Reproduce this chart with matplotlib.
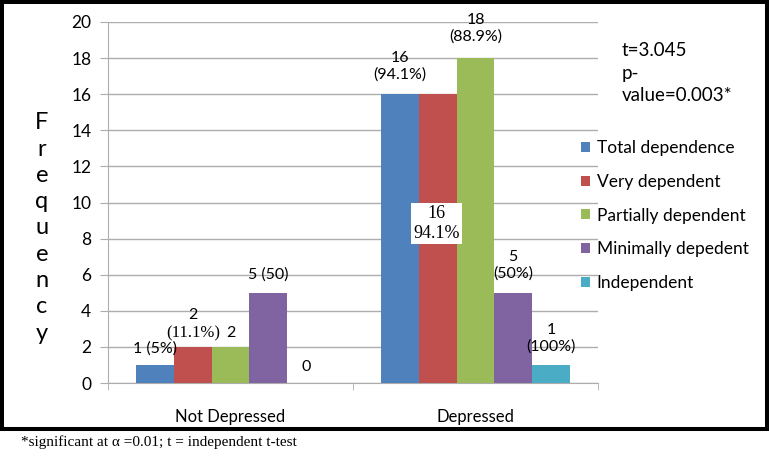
import matplotlib
matplotlib.use("Agg")
import matplotlib.pyplot as plt
import matplotlib.patches as patches
import numpy as np

plt.rcParams["font.family"] = ["Lato", "DejaVu Sans"]

categories = ["Not Depressed", "Depressed"]
series = ["Total dependence", "Very dependent", "Partially dependent",
          "Minimally depedent", "Independent"]
colors = ["#4F81BD", "#C0504D", "#9BBB59", "#8064A2", "#4BACC6"]
values = {
    "Total dependence": [1, 16],
    "Very dependent": [2, 16],
    "Partially dependent": [2, 18],
    "Minimally depedent": [5, 5],
    "Independent": [0, 1],
}
yticks = list(range(0, 21, 2))

# labels per (series index, category index): text, font, offset in pixels
bar_labels = {
    (0, 0): ("1 (5%)", "sans", 16),
    (1, 0): ("(11.1%)", "serif", 14),
    (2, 0): ("2", "sans", 14),
    (3, 0): ("5 (50)", "sans", 18),
    (4, 0): ("0", "sans", 16),
    (0, 1): ("16\n(94.1%)", "sans", 28),
    (2, 1): ("18\n(88.9%)", "sans", 30),
    (3, 1): ("5\n(50%)", "sans", 27),
    (4, 1): ("1\n(100%)", "sans", 27),
}
stat_text = "t=3.045\np-\nvalue=0.003*"
footnote = "*significant at \u03b1 =0.01; t = independent t-test"

W, H = 769, 458
fig = plt.figure(figsize=(W / 100, H / 100), dpi=100)
ax = fig.add_axes([108 / W, 1 - 383 / H, (598 - 108) / W, (383 - 22) / H])

n = len(series)
width = 0.154
x = np.arange(len(categories))
grid_c = "#ADADAD"

for i, name in enumerate(series):
    pos = x + (i - (n - 1) / 2) * width
    ax.bar(pos, values[name], width, color=colors[i], label=name, zorder=3)
    for j in range(len(categories)):
        if (i, j) not in bar_labels:
            continue
        txt, fam, dy = bar_labels[(i, j)]
        family = ["Liberation Serif"] if fam == "serif" else ["Lato", "DejaVu Sans"]
        ax.annotate(txt, (pos[j], values[name][j]), xytext=(0, dy),
                    textcoords="offset pixels", ha="center", va="center",
                    fontsize=12 if fam == "serif" else 11.5, family=family,
                    linespacing=1.2, zorder=5)

# second line of the red "Not Depressed" label
red_x = x[0] + (1 - (n - 1) / 2) * width
ax.annotate("2", (red_x, values["Very dependent"][0]), xytext=(0, 32),
            textcoords="offset pixels", ha="center", va="center", fontsize=11.5)

# boxed label inside the red Depressed bar
red_x2 = x[1] + (1 - (n - 1) / 2) * width
ax.text(red_x2 - 0.005, 8.85, "16\n94.1%", ha="center", va="center",
        fontsize=13, family=["Liberation Serif"], linespacing=1.2, zorder=6,
        bbox=dict(facecolor="white", edgecolor="none", pad=1.5))

ax.set_xlim(-0.5, 1.5)
ax.set_ylim(0, 20)
ax.set_yticks(yticks)
ax.set_xticks(x)
ax.set_xticklabels(categories, fontsize=12)
ax.set_xticks([-0.5, 0.5, 1.5], minor=True)
ax.tick_params(axis="x", which="major", length=0, pad=19)
ax.tick_params(axis="x", which="minor", length=5, color=grid_c)
ax.tick_params(axis="y", length=6, color=grid_c, labelsize=12.5, pad=6)
ax.yaxis.grid(True, color=grid_c, linewidth=1)
ax.set_axisbelow(True)
for s in ["top", "right"]:
    ax.spines[s].set_visible(False)
for s in ["left", "bottom"]:
    ax.spines[s].set_color(grid_c)

fig.text(42 / W, 1 - 228 / H, "\n".join("Frequency"), ha="center", va="center",
         fontsize=17, linespacing=1.31)

fig.text(622 / W, 1 - 73 / H, stat_text, ha="left", va="center",
         fontsize=13.5, linespacing=1.4)

ax.legend(loc="center left", bbox_to_anchor=(581 / W, 1 - 215.5 / H),
          bbox_transform=fig.transFigure, frameon=False, fontsize=12.5,
          handlelength=0.5, handleheight=0.5, handletextpad=0.4,
          labelspacing=1.02, borderpad=0, borderaxespad=0)

fig.patches.append(patches.Rectangle((1.5 / W, 1 - 429 / H), 765 / W, 427 / H,
                                     transform=fig.transFigure, fill=False,
                                     edgecolor="black", linewidth=2.9))

fig.text(21 / W, 1 - 442 / H, footnote, ha="left", va="center",
         fontsize=11, family=["Liberation Serif"])

fig.savefig("out.png", dpi=100)
